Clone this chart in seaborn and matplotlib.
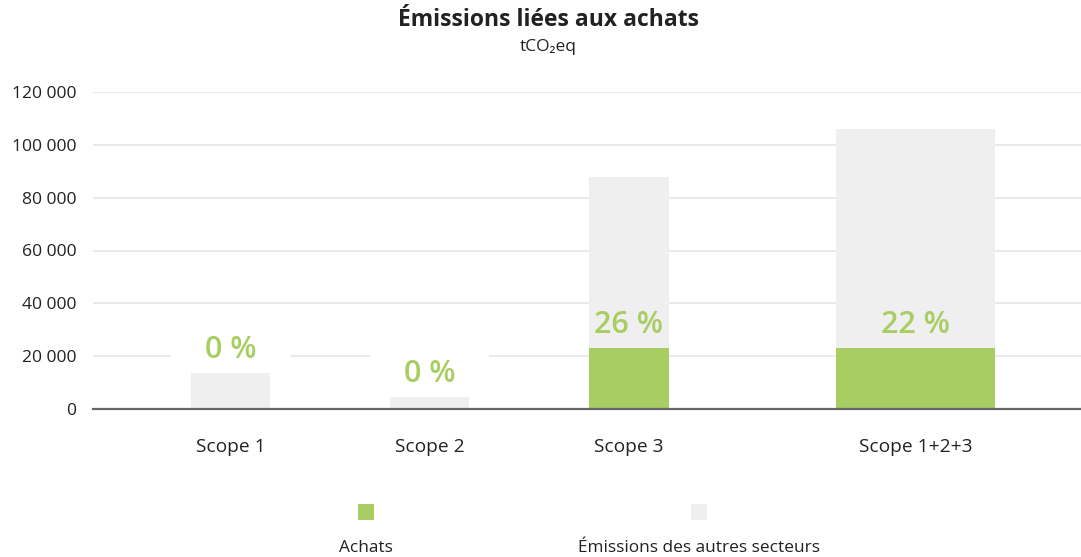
import matplotlib
matplotlib.use("Agg")
import matplotlib.pyplot as plt
from matplotlib.patches import Rectangle
from matplotlib.ticker import FuncFormatter
import numpy as np
import pandas as pd
import seaborn as sns

# Emissions data (tCO2eq)
categories = ["Scope 1", "Scope 2", "Scope 3", "Scope 1+2+3"]
achats = [0, 0, 23100, 23100]
autres = [13600, 4500, 64900, 83000]
y_ticks = [0, 20000, 40000, 60000, 80000, 100000, 120000]
legend_labels = ["Achats", "Émissions des autres secteurs"]

# Layout: the combined scope is drawn as a wider, set-apart column
x_pos = [0, 1, 2, 3.44]
bar_width = [0.4, 0.4, 0.4, 0.8]

GREEN = "#a8cd63"
GREY = "#efefef"
TEXT = "#222222"

sns.set_theme(style="white")
plt.rcParams["font.family"] = ["Open Sans", "DejaVu Sans"]

df = pd.DataFrame({
    "scope": categories,
    "achats": achats,
    "autres": autres,
    "pos": x_pos,
    "width": bar_width,
})
df["total"] = df["achats"] + df["autres"]

fig = plt.figure(figsize=(10.81, 5.57), dpi=100)
ax = fig.add_axes([93 / 1081, (557 - 409) / 557, 1 - 93 / 1081, (409 - 92) / 557])

for w, sub in df.groupby("width"):
    sns.barplot(data=sub, x="pos", y="total", native_scale=True, width=w,
                color=GREY, saturation=1, linewidth=0, errorbar=None,
                ax=ax, zorder=2)
    sns.barplot(data=sub, x="pos", y="achats", native_scale=True, width=w,
                color=GREEN, saturation=1, linewidth=0, errorbar=None,
                ax=ax, zorder=3)

ax.set_xlim(-0.69, 4.27)
ax.set_ylim(0, 120000)
ax.set_yticks(y_ticks)
ax.yaxis.set_major_formatter(FuncFormatter(lambda v, _: f"{v:,.0f}".replace(",", " ")))
ax.set_xticks(x_pos, categories)
ax.set_xlabel("")
ax.set_ylabel("")

ax.set_axisbelow(True)
ax.yaxis.grid(True, color="#e6e6e6", linewidth=1.2, zorder=0.5)
ax.xaxis.grid(False)
for side in ("top", "right", "left"):
    ax.spines[side].set_visible(False)
ax.spines["bottom"].set_color("#666666")
ax.spines["bottom"].set_linewidth(1.6)
ax.spines["bottom"].set_zorder(4)
ax.tick_params(axis="y", length=0, pad=12, labelsize=12.6, labelcolor=TEXT)
ax.tick_params(axis="x", length=0, pad=21, labelsize=13.8, labelcolor=TEXT)
for lab in ax.get_xticklabels():
    lab.set_fontweight("medium")

# Share of purchases in each column
for _, row in df.iterrows():
    share = round(100 * row["achats"] / row["total"])
    label = f"{share} %"
    if row["autres"] > 20000:
        ax.text(row["pos"], row["achats"] + 8700, label, ha="center", va="center",
                fontsize=22, fontweight="semibold", color=GREEN, zorder=5)
    else:
        y = row["total"] + 8600
        # white backing behind labels that sit above short columns
        ax.add_patch(Rectangle((row["pos"] - 0.3, y - 10500), 0.6, 21000,
                               facecolor="white", edgecolor="none", zorder=1))
        ax.text(row["pos"], y, label, ha="center", va="center",
                fontsize=22, fontweight="semibold", color=GREEN, zorder=5)

# Titles
fig.text(548 / 1081, 1 - 20 / 557, "Émissions liées aux achats", ha="center",
         va="center", fontsize=16.5, fontweight="bold", color=TEXT)
fig.text(548 / 1081, 1 - 47 / 557, "tCO₂eq", ha="center", va="center",
         fontsize=12.5, color=TEXT)

# Legend: swatch above each label
legend_colors = [GREEN, GREY]
legend_x = [366, 699]
for lx, col, lab in zip(legend_x, legend_colors, legend_labels):
    fig.patches.append(Rectangle(((lx - 8) / 1081, 1 - 520 / 557), 16 / 1081, 16 / 557,
                                 transform=fig.transFigure, facecolor=col,
                                 edgecolor="none"))
    fig.text(lx / 1081, 1 - 548 / 557, lab, ha="center", va="center",
             fontsize=12.4, color=TEXT)

fig.savefig("out.png", dpi=100, facecolor="white")
